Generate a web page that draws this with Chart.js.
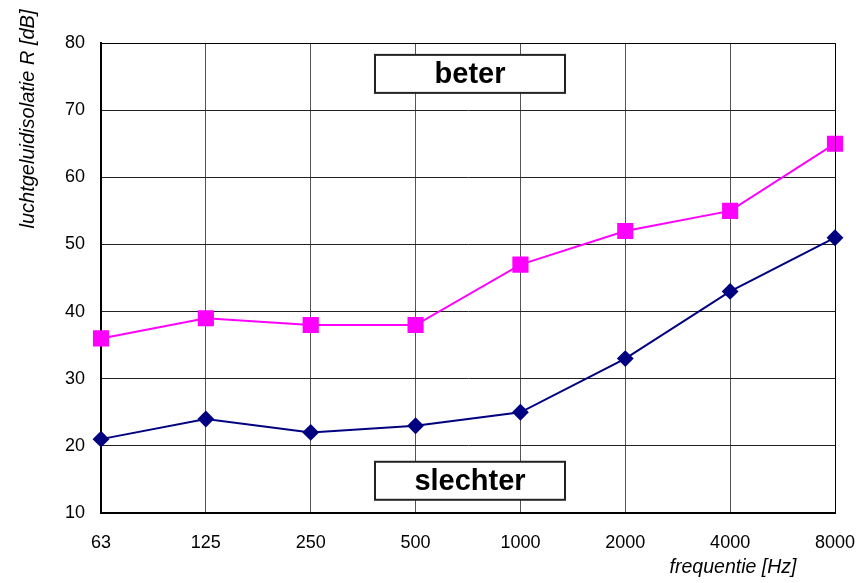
<!DOCTYPE html>
<html>
<head>
<meta charset="utf-8">
<script src="https://cdn.jsdelivr.net/npm/chart.js@4"></script>
<style>
  html, body { margin: 0; padding: 0; background: #fff; }
  #wrap { width: 859px; height: 583px; }
</style>
</head>
<body>
<div id="wrap"><canvas id="chart" width="859" height="583"></canvas></div>
<script>
// Chart data
var frequencies = ['63', '125', '250', '500', '1000', '2000', '4000', '8000'];
var seriesTop = [36, 39, 38, 38, 47, 52, 55, 65];
var seriesBottom = [21, 24, 22, 23, 25, 33, 43, 51];
var yTitle = 'luchtgeluidisolatie R [dB]';
var xTitle = 'frequentie [Hz]';
var labelBetter = 'beter';
var labelWorse = 'slechter';

var FONT = '"Liberation Sans", Arial, Helvetica, sans-serif';

// draws the frame, the axis titles and the two label boxes
var extrasPlugin = {
    id: 'extras',
    afterDatasetsDraw: function(chart) {
        var ctx = chart.ctx;
        var a = chart.chartArea;
        var xs = chart.scales.x, ys = chart.scales.y;
        ctx.save();

        // thin frame top/right
        ctx.strokeStyle = '#000';
        ctx.lineWidth = 1;
        ctx.beginPath();
        ctx.moveTo(a.left, a.top + 0.5);
        ctx.lineTo(a.right + 0.5, a.top + 0.5);
        ctx.lineTo(a.right + 0.5, a.bottom);
        ctx.stroke();

        // label boxes, centred between 500 and 1000
        var cx = (xs.getPixelForValue(3) + xs.getPixelForValue(4)) / 2 + 2;
        function box(text, value) {
            var cy = ys.getPixelForValue(value);
            var w = 190, h = 38;
            ctx.fillStyle = '#fff';
            ctx.fillRect(cx - w / 2, cy - h / 2, w, h);
            ctx.strokeStyle = '#222';
            ctx.lineWidth = 2;
            ctx.strokeRect(cx - w / 2, cy - h / 2, w, h);
            ctx.fillStyle = '#000';
            ctx.font = 'bold 29px ' + FONT;
            ctx.textAlign = 'center';
            ctx.textBaseline = 'middle';
            ctx.fillText(text, cx, cy + 1);
        }
        box(labelBetter, 75.4);
        box(labelWorse, 14.8);

        // axis titles
        ctx.fillStyle = '#000';
        ctx.textAlign = 'center';
        ctx.textBaseline = 'middle';
        ctx.font = 'italic 19.5px ' + FONT;
        ctx.fillText(xTitle, 733, 568);

        ctx.font = 'italic 20px ' + FONT;
        ctx.translate(28, 119);
        ctx.rotate(-Math.PI / 2);
        ctx.fillText(yTitle, 0, 0);
        ctx.restore();
    }
};

var chartData = {
    labels: frequencies,
    datasets: [{
        label: 'top',
        data: seriesTop,
        borderColor: '#ff00ff',
        backgroundColor: '#ff00ff',
        borderWidth: 2,
        pointStyle: 'rect',
        pointRadius: 10,
        pointHoverRadius: 10,
        tension: 0
    }, {
        label: 'bottom',
        data: seriesBottom,
        borderColor: '#000080',
        backgroundColor: '#000080',
        borderWidth: 2,
        pointStyle: 'rectRot',
        pointRadius: 7,
        pointHoverRadius: 7,
        tension: 0
    }]
};

var chartOptions = {
    responsive: false,
    animation: false,
    layout: { padding: { left: 0, top: 43, right: 24, bottom: 0 } },
    plugins: {
        legend: { display: false },
        tooltip: { enabled: false }
    },
    scales: {
        x: {
            type: 'category',
            offset: false,
            grid: { color: '#555', lineWidth: 1, drawTicks: false },
            border: { color: '#000', width: 2 },
            ticks: { color: '#000', padding: 19, font: { family: FONT, size: 18 }, maxRotation: 0 },
            afterFit: function(scale) {
                scale.height = 70;
                scale.paddingLeft = 0;
                scale.paddingRight = 0;
            }
        },
        y: {
            min: 10,
            max: 80,
            grid: { color: '#222', lineWidth: 1, drawTicks: false },
            border: { color: '#000', width: 2 },
            ticks: { stepSize: 10, color: '#000', padding: 16, font: { family: FONT, size: 18 } },
            afterFit: function(scale) { scale.width = 101; }
        }
    }
};

new Chart(document.getElementById('chart'), {
    type: 'line',
    data: chartData,
    options: chartOptions,
    plugins: [extrasPlugin]
});
</script>
</body>
</html>
